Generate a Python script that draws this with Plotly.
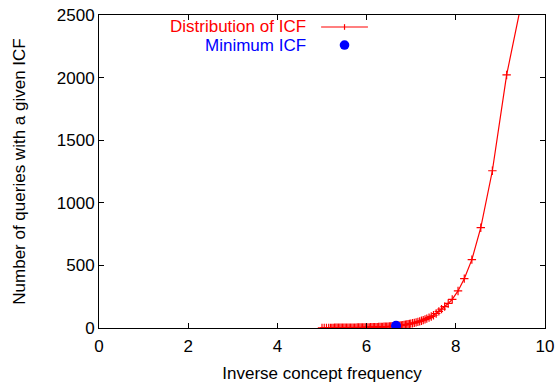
import plotly.graph_objects as go

# Distribution of ICF (inverse concept frequency) vs number of queries
icf = [5.00, 5.05, 5.10, 5.15, 5.19, 5.22, 5.25, 5.28, 5.31, 5.34, 5.37, 5.40,
       5.43, 5.46, 5.49, 5.52, 5.55, 5.58, 5.61, 5.64, 5.67, 5.70, 5.73, 5.76,
       5.79, 5.82, 5.85, 5.88, 5.91, 5.94, 5.97, 6.00, 6.03, 6.06, 6.09, 6.12,
       6.15, 6.18, 6.21, 6.24, 6.27, 6.30, 6.33, 6.36, 6.39, 6.42, 6.45, 6.48,
       6.51, 6.54, 6.57, 6.60, 6.63, 6.66, 6.69, 6.72, 6.75, 6.78, 6.81, 6.84,
       6.87, 6.90, 6.93, 6.96, 6.99, 7.03, 7.07, 7.11, 7.15, 7.19, 7.23, 7.27,
       7.31, 7.35, 7.40, 7.45, 7.50, 7.56, 7.62, 7.68, 7.75, 7.83, 7.92, 8.05,
       8.19, 8.36, 8.56, 8.82, 9.14, 9.52]
queries = [1, 1, 1, 1, 1, 1, 1, 2, 2, 2, 2, 2,
           2, 2, 2, 2, 3, 3, 3, 3, 3, 3, 3, 3,
           4, 4, 4, 4, 4, 4, 5, 5, 5, 5, 6, 6,
           6, 7, 7, 7, 8, 8, 9, 9, 10, 10, 11, 11,
           12, 13, 14, 14, 15, 16, 17, 18, 20, 21, 23, 24,
           26, 28, 30, 32, 35, 38, 41, 45, 49, 53, 58, 63,
           69, 75, 83, 92, 102, 116, 133, 151, 171, 196, 229, 296,
           394, 546, 801, 1256, 2021, 2680]

min_icf = [6.66]
min_queries = [18]

x_ticks = [0, 2, 4, 6, 8, 10]
y_ticks = [0, 500, 1000, 1500, 2000, 2500]

FONT = "Liberation Sans, Arial, sans-serif"
FS = 17

fig = go.Figure()
fig.add_trace(go.Scatter(
    x=icf, y=queries, mode="lines+markers",
    line=dict(color="#ff0000", width=1.2),
    marker=dict(symbol="cross-thin", size=6, color="#ff0000",
                line=dict(color="#ff0000", width=1.2)),
    showlegend=False))
fig.add_trace(go.Scatter(
    x=min_icf, y=min_queries, mode="markers",
    marker=dict(symbol="circle", size=10, color="#0000ff"),
    showlegend=False))

axis_common = dict(
    showgrid=False, zeroline=False, showline=True, linecolor="black",
    linewidth=1, mirror="allticks", ticks="inside", ticklen=5,
    tickcolor="black", tickwidth=1, automargin=False,
    tickfont=dict(family=FONT, size=FS, color="black"))

fig.update_xaxes(range=[0, 10], tickvals=x_ticks,
                 ticktext=[str(v) for v in x_ticks],
                 ticklabelstandoff=3,
                 title=dict(text="Inverse concept frequency",
                            font=dict(family=FONT, size=FS, color="black"),
                            standoff=14),
                 **axis_common)
fig.update_yaxes(range=[0, 2500], tickvals=y_ticks,
                 ticktext=[str(v) for v in y_ticks],
                 title=dict(text="Number of queries with a given ICF",
                            font=dict(family=FONT, size=FS, color="black"),
                            standoff=26),
                 **axis_common)

# Legend (gnuplot style: text on left, sample on right)
fig.add_annotation(xref="paper", yref="paper", x=0.4686, y=0.9617,
                   text="Distribution of ICF", showarrow=False,
                   xanchor="right", yanchor="middle",
                   font=dict(family=FONT, size=FS, color="#ff0000"))
fig.add_annotation(xref="paper", yref="paper", x=0.4686, y=0.904,
                   text="Minimum ICF", showarrow=False,
                   xanchor="right", yanchor="middle",
                   font=dict(family=FONT, size=FS, color="#0000ff"))
fig.add_shape(type="line", xref="paper", yref="paper",
              x0=0.498, x1=0.603, y0=0.9617, y1=0.9617,
              line=dict(color="#ff0000", width=1.2))
fig.add_shape(type="line", xref="paper", yref="paper",
              x0=0.5505, x1=0.5505, y0=0.9617 - 0.009, y1=0.9617 + 0.009,
              line=dict(color="#ff0000", width=1.2))
fig.add_shape(type="circle", xref="paper", yref="paper",
              x0=0.5505 - 0.0108, x1=0.5505 + 0.0108,
              y0=0.904 - 0.0154, y1=0.904 + 0.0154,
              fillcolor="#0000ff", line=dict(color="#0000ff", width=0))

fig.update_layout(
    width=557, height=383,
    margin=dict(l=99, r=12, t=15, b=55),
    paper_bgcolor="white", plot_bgcolor="white",
    font=dict(family=FONT, size=FS, color="black"))

fig.write_html("out.html")
